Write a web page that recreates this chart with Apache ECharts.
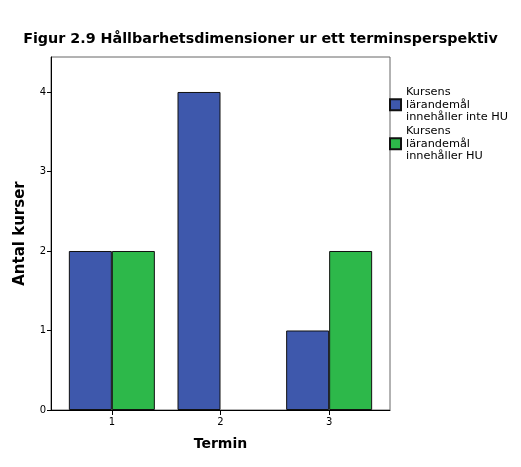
<!DOCTYPE html>
<html>
<head>
<meta charset="utf-8">
<script src="https://cdn.jsdelivr.net/npm/echarts@6/dist/echarts.min.js"></script>
<style>
  html, body { margin: 0; padding: 0; background: #fff; }
  #main { width: 521px; height: 467px; }
</style>
</head>
<body>
<div id="main"></div>
<script>
var categories = ['1', '2', '3'];
var seriesNames = ['Kursens lärandemål innehåller inte HU', 'Kursens lärandemål innehåller HU'];
var utanHU = [2, 4, 1];
var medHU = [2, 0, 2];
var yTicks = [0, 1, 2, 3, 4];

var font = 'DejaVu Sans';
var chart = echarts.init(document.getElementById('main'));

function toPoints(values) {
  return values.map(function (v, i) {
    return v > 0 ? [Number(categories[i]), v] : null;
  }).filter(function (p) { return p; });
}

// legend text broken the same way as the picture
var legendLines = {};
legendLines[seriesNames[0]] = 'Kursens\nlärandemål\ninnehåller inte HU';
legendLines[seriesNames[1]] = 'Kursens\nlärandemål\ninnehåller HU';

chart.setOption({
  animation: false,
  title: {
    text: 'Figur 2.9 Hållbarhetsdimensioner ur ett terminsperspektiv',
    left: 'center',
    top: 27,
    textStyle: { fontFamily: font, fontSize: 14.3, fontWeight: 'bold', color: '#000' }
  },
  legend: {
    orient: 'vertical',
    left: 389,
    top: 86,
    padding: 0,
    itemWidth: 11,
    itemHeight: 11,
    itemGap: 1.5,
    icon: 'rect',
    data: seriesNames,
    formatter: function (name) { return legendLines[name]; },
    textStyle: { fontFamily: font, fontSize: 11.3, color: '#000', lineHeight: 12.5 }
  },
  grid: {
    left: 51, top: 57, right: 131, bottom: 57,
    show: true, borderColor: '#666', borderWidth: 1, backgroundColor: '#fff'
  },
  xAxis: {
    type: 'value',
    min: 0.44,
    max: 3.56,
    name: 'Termin',
    nameLocation: 'middle',
    nameGap: 27,
    nameTextStyle: { fontFamily: font, fontSize: 14, fontWeight: 'bold', color: '#000' },
    splitLine: { show: false },
    axisLine: { show: true, onZero: false, lineStyle: { color: '#000' } },
    axisTick: { show: true, length: 5, customValues: categories.map(Number), lineStyle: { color: '#000' } },
    axisLabel: {
      customValues: categories.map(Number),
      formatter: function (v) { return String(v); },
      fontFamily: font, fontSize: 10, color: '#000', margin: 7
    }
  },
  yAxis: {
    type: 'value',
    min: 0,
    max: 4.44,
    name: 'Antal kurser',
    nameLocation: 'middle',
    nameGap: 23,
    nameTextStyle: { fontFamily: font, fontSize: 15, fontWeight: 'bold', color: '#000' },
    splitLine: { show: false },
    axisLine: { show: true, lineStyle: { color: '#000' } },
    axisTick: { show: true, length: 4, customValues: yTicks, lineStyle: { color: '#000' } },
    axisLabel: {
      customValues: yTicks,
      fontFamily: font, fontSize: 10, color: '#000', margin: 5
    }
  },
  series: [
    {
      name: seriesNames[0],
      type: 'bar',
      data: toPoints(utanHU),
      barWidth: 43,
      barGap: '0%',
      itemStyle: { color: '#3e58ac', borderColor: '#111', borderWidth: 1 }
    },
    {
      name: seriesNames[1],
      type: 'bar',
      data: toPoints(medHU),
      barWidth: 43,
      barGap: '0%',
      itemStyle: { color: '#2db84a', borderColor: '#111', borderWidth: 1 }
    }
  ]
});
</script>
</body>
</html>
